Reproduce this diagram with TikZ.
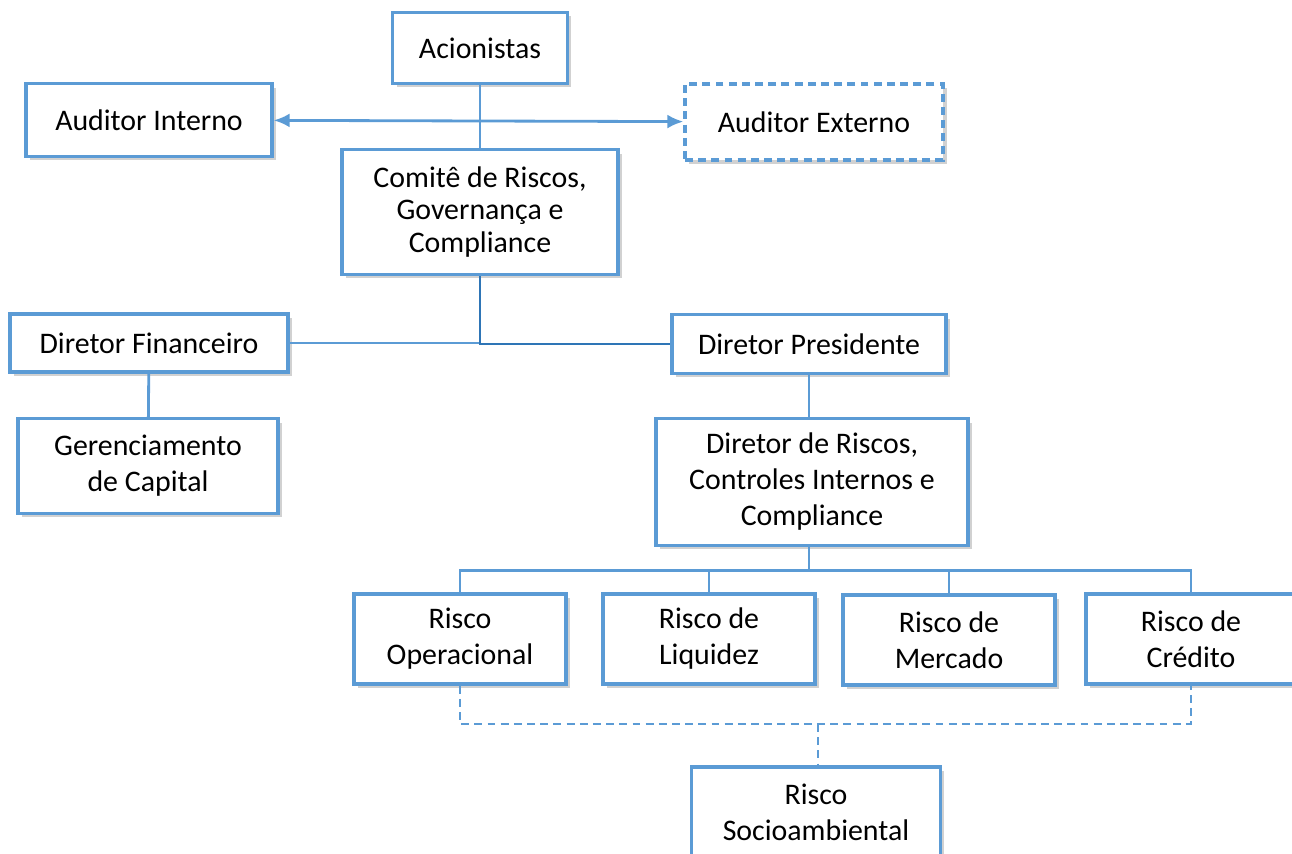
\documentclass[tikz,border=0pt]{standalone}
\usepackage{fontspec}
\setmainfont{Carlito}
\usepackage{tikz}
\usetikzlibrary{arrows.meta,positioning,shadows}
\definecolor{OrgLine}{HTML}{5B9BD5}
\definecolor{OrgDark}{HTML}{2E75B6}
\tikzset{
  orgchart/.style={x=0.02cm,y=-0.02cm,font=\fontsize{17}{20.5}\selectfont},
  unit/.style={draw=OrgLine,line width=1.9pt,fill=white,align=center,
    drop shadow={shadow xshift=0.08cm,shadow yshift=-0.08cm,opacity=0.3,fill=black!60}},
  extunit/.style={unit,dash pattern=on 4.5pt off 3pt},
  link/.style={draw=OrgLine,line width=1.6pt},
  dlink/.style={link,dash pattern=on 4.5pt off 3pt},
  audit/.style={link,{Latex[length=3.2mm,width=2.8mm]}-{Latex[length=3.2mm,width=2.8mm]}},
}

\begin{document}
\begin{tikzpicture}[orgchart]
  \useasboundingbox (0,0) rectangle (1292,854);

  % top level
  \node[unit,minimum width=3.5cm,minimum height=1.42cm] (acn) at (480,48) {Acionistas};
  \node[unit,minimum width=4.92cm,minimum height=1.46cm] (ai) at (149,120) {Auditor Interno};
  \node[extunit,minimum width=5.16cm,minimum height=1.52cm] (ae) at (814,122) {Auditor Externo};
  \node[unit,minimum width=5.52cm,minimum height=2.5cm,font=\fontsize{17}{18.6}\selectfont]
    (com) at (480,212) {Comitê de Riscos,\\Governança e\\Compliance};

  % directors
  \node[unit,minimum width=5.56cm,minimum height=1.16cm] (df) at (149,343) {Diretor Financeiro};
  \node[unit,minimum width=5.48cm,minimum height=1.18cm] (dp) at (809,344) {Diretor Presidente};
  \node[unit,minimum width=5.2cm,minimum height=1.9cm] (gc) at (148,466)
    {Gerenciamento\\de Capital};
  \node[unit,minimum width=6.24cm,minimum height=2.54cm] (dr) at (812,482)
    {Diretor de Riscos,\\Controles Internos e\\Compliance};

  % risks
  \node[unit,minimum width=4.24cm,minimum height=1.8cm] (ro) at (460,639) {Risco\\Operacional};
  \node[unit,minimum width=4.24cm,minimum height=1.8cm] (rl) at (709,639) {Risco de\\Liquidez};
  \node[unit,minimum width=4.24cm,minimum height=1.8cm] (rm) at (949,640) {Risco de\\Mercado};
  \node[unit,minimum width=4.2cm,minimum height=1.8cm] (rc) at (1191,639) {Risco de\\Crédito};
  \node[unit,minimum width=4.98cm,minimum height=1.8cm] (rs) at (816,812) {Risco\\Socioambiental};

  \coordinate (jn) at (818,724);

  % connectors
  \draw[link] (acn) -- (com);
  \draw[audit] (ai) -- (ae);
  \draw[link] (com.south) |- (df.east);
  \draw[link,draw=OrgDark] (com.south) |- (dp.west);
  \draw[link] (df) -- (gc);
  \draw[link] (dp) -- (dp |- dr.north);
  \foreach \r in {ro,rl,rm,rc}
    \draw[link] (dp |- dr.south) -- ++(0,23) -| (\r.north);
  \draw[dlink] (ro.south) |- (jn) -| (rc.south);
  \draw[dlink] (jn) -- (rs.north -| jn);
\end{tikzpicture}
\end{document}
